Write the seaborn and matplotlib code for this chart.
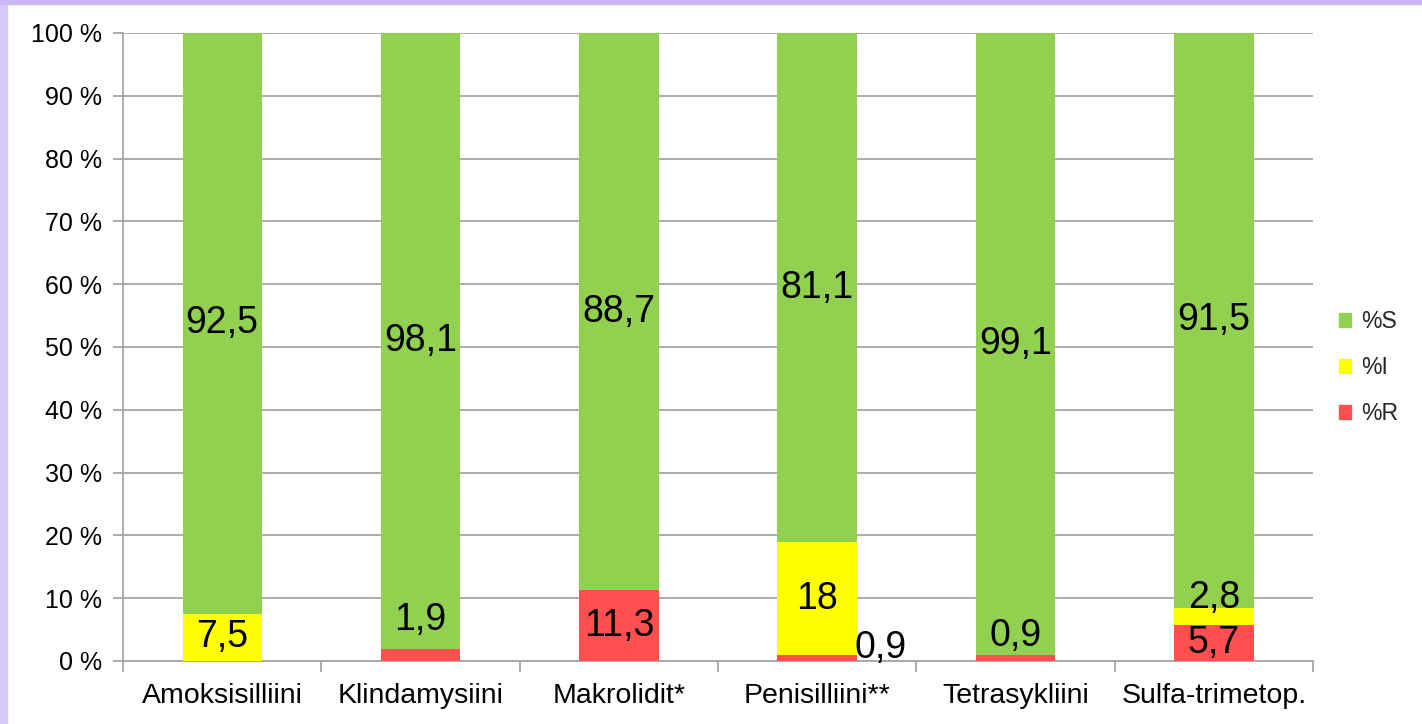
import matplotlib
matplotlib.use("Agg")
import matplotlib.pyplot as plt
import seaborn as sns
import pandas as pd
import numpy as np
from matplotlib.patches import Rectangle

categories = ["Amoksisilliini", "Klindamysiini", "Makrolidit*", "Penisilliini**", "Tetrasykliini", "Sulfa-trimetop."]
pct_S = [92.5, 98.1, 88.7, 81.1, 99.1, 91.5]
pct_I = [7.5, 0.0, 0.0, 18.0, 0.0, 2.8]
pct_R = [0.0, 1.9, 11.3, 0.9, 0.9, 5.7]
series_names = ["%S", "%I", "%R"]

sns.set_theme(style="white")
plt.rcParams["font.family"] = ["Liberation Sans", "DejaVu Sans"]

GREEN = "#92D050"
YELLOW = "#FFFF00"
RED = "#FF4F4F"

fig = plt.figure(figsize=(14.22, 7.24), dpi=100)
fig.patch.set_facecolor("white")
# purple frame strips
fig.add_artist(Rectangle((0, 0), 7 / 1422, 1, transform=fig.transFigure, color="#D9CBF9", zorder=0))
fig.add_artist(Rectangle((0, 1 - 4 / 724), 1, 4 / 724, transform=fig.transFigure, color="#CDB6F8", zorder=0))

ax = fig.add_axes([123 / 1422, 63 / 724, (1313 - 123) / 1422, (661 - 33) / 724])

df = pd.DataFrame({"cat": categories, "S": pct_S, "I": pct_I, "R": pct_R})
df["top_S"] = df["R"] + df["I"] + df["S"]
df["top_I"] = df["R"] + df["I"]
df["top_R"] = df["R"]

for col, color in [("top_S", GREEN), ("top_I", YELLOW), ("top_R", RED)]:
    sns.barplot(data=df, x="cat", y=col, color=color, width=0.40, ax=ax,
                saturation=1, linewidth=0, zorder=3)

ax.set_ylim(0, 100)
ax.set_xlim(-0.5, len(categories) - 0.5)
ax.set_yticks(np.arange(0, 101, 10))
ax.set_yticklabels([f"{v} %" for v in range(0, 101, 10)], fontsize=18)
ax.grid(axis="y", color="#A6A6A6", linewidth=1.3, zorder=0)
ax.set_axisbelow(True)
ax.set_xlabel("")
ax.set_ylabel("")

ax.set_xticks(range(len(categories)))
ax.set_xticklabels(categories, fontsize=20.5)
ax.set_xticks(np.arange(-0.5, len(categories)), minor=True)
ax.tick_params(axis="x", which="major", length=0, pad=16, colors="black")
ax.tick_params(axis="x", which="minor", length=8, width=1.3, color="#A6A6A6", bottom=True)
ax.tick_params(axis="y", length=7, width=1.3, color="#A6A6A6", left=True, pad=8)
for lbl in ax.get_yticklabels():
    lbl.set_color("black")

for side in ["top", "right"]:
    ax.spines[side].set_visible(False)
for side in ["left", "bottom"]:
    ax.spines[side].set_color("#A6A6A6")
    ax.spines[side].set_linewidth(1.3)
ax.spines["left"].set_zorder(4)

# data labels
label_fs = 27
offsets = {  # (x offset, y position override) for small segments
    ("R", 1): (0, 6.5),
    ("R", 3): (0.32, 2.0),
    ("R", 4): (0, 4.0),
    ("I", 5): (0, 10.0),
}
for i in range(len(categories)):
    r, iv, s = pct_R[i], pct_I[i], pct_S[i]
    segs = [("R", r, r / 2), ("I", iv, r + iv / 2), ("S", s, r + iv + s / 2)]
    for key, val, ymid in segs:
        if val <= 0:
            continue
        dx, ypos = offsets.get((key, i), (0, ymid))
        txt = f"{val:g}".replace(".", ",")
        ax.text(i + dx, ypos, txt, ha="center", va="center", fontsize=label_fs,
                color="black", zorder=5)

handles = [Rectangle((0, 0), 1, 1, color=c) for c in [GREEN, YELLOW, RED]]
fig.legend(handles, series_names, loc="center left", bbox_to_anchor=(1318 / 1422, 0.492),
           frameon=False, fontsize=16.5, handlelength=0.55, handleheight=0.55,
           handletextpad=0.45, labelspacing=1.0)

fig.savefig("out.png", dpi=100)
